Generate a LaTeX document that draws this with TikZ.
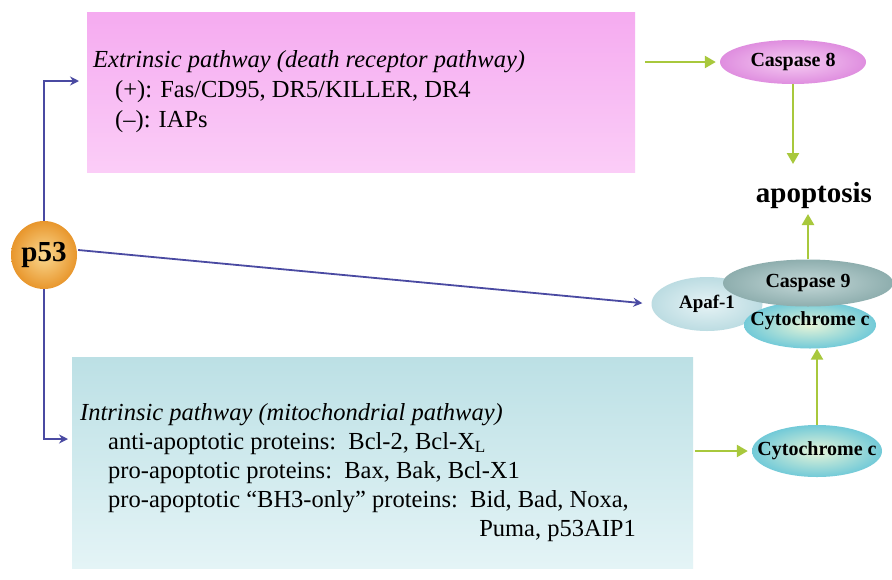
\documentclass[tikz,border=0pt]{standalone}
\usepackage{fontspec}
\setmainfont{Liberation Serif}
\usetikzlibrary{arrows.meta,shapes.geometric}
\definecolor{blueln}{HTML}{4A4AA2}
\definecolor{greenln}{HTML}{A8C83C}
\definecolor{pinkA}{HTML}{F5ABF0}
\definecolor{pinkB}{HTML}{FBCDF7}
\definecolor{cyanA}{HTML}{BCE0E5}
\definecolor{cyanB}{HTML}{E4F4F6}
\definecolor{p53in}{HTML}{FAD890}
\definecolor{p53out}{HTML}{E8962C}
\definecolor{c8in}{HTML}{F6CDF3}
\definecolor{c8out}{HTML}{DF8EDF}
\definecolor{c9in}{HTML}{C4D8D8}
\definecolor{c9out}{HTML}{8EAEAE}
\definecolor{apin}{HTML}{E6F3F5}
\definecolor{apout}{HTML}{BCDCE2}
\definecolor{cyin}{HTML}{E6F4D8}
\definecolor{cyout}{HTML}{72CAD8}
\begin{document}
\begin{tikzpicture}[x=1pt,y=-1pt,
  bluearrow/.style={draw=blueln, line width=1.8pt, -{Stealth[length=9pt,width=9pt]}},
  greenarrow/.style={draw=greenln, line width=2.4pt, -{Triangle[length=11pt,width=12pt]}},
  boxtxt/.style={anchor=base west, inner sep=0pt, font=\fontsize{24.5}{29}\selectfont},
  bubble/.style={ellipse, inner sep=0pt},
  bubtxt/.style={inner sep=0pt, font=\bfseries\fontsize{20}{22}\selectfont}
]
\useasboundingbox (0,0) rectangle (892,579);
\fill[white] (0,0) rectangle (892,579);

% boxes
\node[anchor=north west, minimum width=548pt, minimum height=160pt, inner sep=0pt,
      top color=pinkA, bottom color=pinkB] (ext) at (87,12) {};
\node[anchor=north west, minimum width=621pt, minimum height=211pt, inner sep=0pt,
      top color=cyanA, bottom color=cyanB] (intr) at (72,357) {};

% extrinsic text
\node[boxtxt] (e1) at (93,67) {\itshape Extrinsic pathway (death receptor pathway)};
\node[boxtxt] (e2) at (115,97) {(+): Fas/CD95, DR5/KILLER, DR4};
\node[boxtxt] (e3) at (115,127) {(–): IAPs};

% intrinsic text
\node[boxtxt] (i1) at (80,420) {\itshape Intrinsic pathway (mitochondrial pathway)};
\node[boxtxt] (i2) at (108,449) {anti-apoptotic proteins:\ \ Bcl-2, Bcl-X\textsubscript{L}};
\node[boxtxt] (i3) at (108,478) {pro-apoptotic proteins:\ \ Bax, Bak, Bcl-X1};
\node[boxtxt] (i4) at (108,507) {pro-apoptotic “BH3-only” proteins:\ \ Bid, Bad, Noxa,};
\node[boxtxt, anchor=base east] (i5) at (636,536) {Puma, p53AIP1};

% p53
\node[ellipse, inner sep=0pt, minimum width=66pt, minimum height=68pt, inner color=p53in, outer color=p53out,
      font=\bfseries\fontsize{29}{31}\selectfont] (p53) at (44,255) {};
\node[inner sep=0pt, font=\bfseries\fontsize{29}{31}\selectfont] (p53t) at (p53) {p53};

% right-hand bubbles
\node[bubble, minimum width=146pt, minimum height=44pt, inner color=c8in, outer color=c8out] (c8) at (793,62) {};
\node[bubtxt] (c8t) at (c8) {Caspase 8};
\node[inner sep=0pt, anchor=base, font=\bfseries\fontsize{29}{31}\selectfont] (apop) at (814,202) {apoptosis};

\node[bubble, minimum width=111pt, minimum height=54pt, inner color=apin, outer color=apout] (apaf) at (707,304) {};
\node[bubtxt, font=\bfseries\fontsize{19}{21}\selectfont] (apaft) at (707,304) {Apaf-1};
\node[bubble, minimum width=132pt, minimum height=47pt, inner color=cyin, outer color=cyout] (cyu) at (810,325) {};
\node[bubtxt] (cyut) at (810,321) {Cytochrome c};
\node[bubble, minimum width=170pt, minimum height=47pt, inner color=c9in, outer color=c9out] (c9) at (808,283) {};
\node[bubtxt] (c9t) at (c9) {Caspase 9};
\node[bubble, minimum width=130pt, minimum height=52pt, inner color=cyin, outer color=cyout] (cyl) at (817,451) {};
\node[bubtxt] (cylt) at (cyl) {Cytochrome c};

% connector end points
\coordinate (ea) at (79,81);
\coordinate (ia) at (68,439);
\coordinate (g1) at (645,62);
\coordinate (g2) at (695,451);
\coordinate (apT) at (793,164);
\coordinate (apB) at (808,214);

% blue connectors
\draw[bluearrow] (p53.north) |- (ea);
\draw[bluearrow] (p53.south) |- (ia);
\draw[bluearrow, shorten >=9pt] (p53.east) ++(1,-5) -- (apaf.west);

% green connectors
\draw[greenarrow, shorten >=4pt] (g1) -- (c8.west);
\draw[greenarrow] (c8.south) -- (apT);
\draw[greenarrow] (c9.north) -- (apB);
\draw[greenarrow, shorten >=4pt] (g2) -- (cyl.west);
\draw[greenarrow] (cyl.north) -- (cyl.north |- cyu.south);
\end{tikzpicture}
\end{document}
